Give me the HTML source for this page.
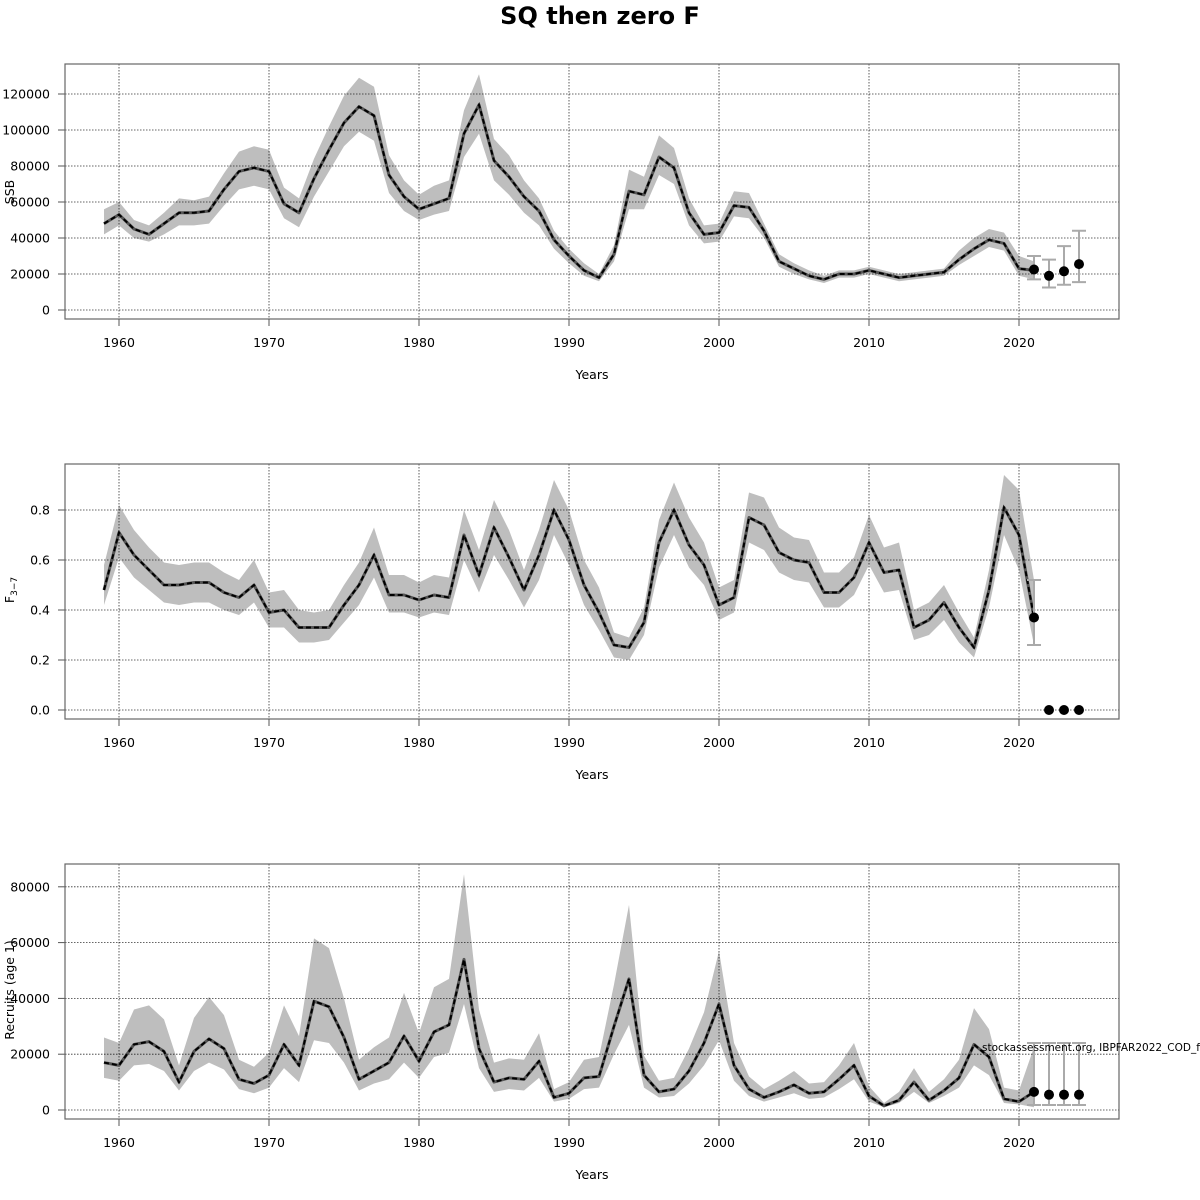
<!DOCTYPE html>
<html><head><meta charset="utf-8"><style>
html,body{margin:0;padding:0;background:#fff;width:1200px;height:1200px;overflow:hidden}
svg{display:block;font-family:"DejaVu Sans","Liberation Sans",sans-serif}
</style></head><body>
<svg id="chart" width="1200" height="1200" viewBox="0 0 1200 1200">
<text x="600" y="24" text-anchor="middle" font-size="24" font-weight="bold">SQ then zero F</text>
</svg>
<script>
const years = [];
for (let y = 1959; y <= 2021; y++) years.push(y);
const xTicks = [1960, 1970, 1980, 1990, 2000, 2010, 2020];

const ssbMid = [48,53,45,42,48,54,54,55,67,77,79,77,59,54,73,89,104,113,108,75,63,56,59,62,98,114,83,74,63,55,39,30,22,18,31,66,64,85,79,54,42,43,58,57,44,27,23,19,17,20,20,22,20,18,19,20,21,28,34,39,37,23,22];
const ssbHi = [56,60,50,47,54,62,61,63,76,88,91,89,68,62,84,102,119,129,124,86,72,64,69,72,111,131,95,86,72,62,44,34,26,20,36,78,74,97,90,62,47,48,66,65,48,31,26,22,19,22,22,24,22,20,21,22,23,33,40,45,43,30,27];
const ssbLo = [42,47,40,38,42,47,47,48,58,67,69,67,51,46,63,77,91,99,94,65,55,50,53,55,85,98,72,64,54,47,34,26,19,16,27,56,56,75,70,47,37,38,52,51,40,24,20,17,15,18,18,20,18,16,17,18,19,25,30,35,33,19,17];
const ssbFcYears = [2021,2022,2023,2024];
const ssbFc = [22.5,19,21.5,25.5];
const ssbFcLo = [17,12.5,14,15.5];
const ssbFcHi = [30,28,35.5,44];
const ssbTicks = [0,20000,40000,60000,80000,100000,120000];

const fMid = [0.48,0.71,0.62,0.56,0.50,0.50,0.51,0.51,0.47,0.45,0.50,0.39,0.40,0.33,0.33,0.33,0.42,0.50,0.62,0.46,0.46,0.44,0.46,0.45,0.70,0.54,0.73,0.61,0.48,0.62,0.80,0.68,0.50,0.39,0.26,0.25,0.35,0.67,0.80,0.66,0.58,0.42,0.45,0.77,0.74,0.63,0.60,0.59,0.47,0.47,0.53,0.67,0.55,0.56,0.33,0.36,0.43,0.33,0.25,0.48,0.81,0.70,0.37];
const fHi = [0.58,0.82,0.72,0.65,0.59,0.58,0.59,0.59,0.55,0.52,0.60,0.47,0.48,0.40,0.39,0.40,0.50,0.59,0.73,0.54,0.54,0.51,0.54,0.53,0.80,0.64,0.84,0.72,0.56,0.72,0.92,0.80,0.60,0.49,0.31,0.29,0.41,0.76,0.91,0.77,0.67,0.49,0.52,0.87,0.85,0.73,0.69,0.68,0.55,0.55,0.61,0.78,0.65,0.67,0.40,0.43,0.50,0.39,0.29,0.56,0.94,0.88,0.52];
const fLo = [0.42,0.61,0.53,0.48,0.43,0.42,0.43,0.43,0.40,0.38,0.43,0.33,0.33,0.27,0.27,0.28,0.35,0.42,0.53,0.39,0.39,0.37,0.39,0.38,0.60,0.47,0.62,0.52,0.41,0.52,0.70,0.58,0.42,0.32,0.21,0.20,0.30,0.57,0.70,0.57,0.50,0.36,0.39,0.67,0.64,0.55,0.52,0.51,0.41,0.41,0.46,0.58,0.47,0.48,0.28,0.30,0.36,0.27,0.21,0.41,0.70,0.56,0.26];
const fFcYears = [2021,2022,2023,2024];
const fFc = [0.37,0,0,0];
const fFcLo = [0.26,0,0,0];
const fFcHi = [0.52,0,0,0];
const fTicks = [0,0.2,0.4,0.6,0.8];

const recMid = [17,16,23.5,24.5,21,10,21,25.5,22,11,9.5,12.5,23.5,16,39,37,26,11,14,17,26.5,17.5,28,30.5,54,22,10,11.5,11,17.5,4.5,6,11.5,12,30,47,12.5,6.5,7.5,14,24,38,16,7.5,4.5,6.5,9,6,6.5,11,16,5,1.5,3.5,10,3.5,7,11.5,23.5,19,4,3,6.5];
const recHi = [26,24,36,37.5,32.5,16,33,40.5,34,18,15.5,20.5,37.5,26.5,61.5,58,40,18,22.5,26,42,27.5,44,47,84.5,36,17,18.5,18,27.5,7.5,10,18,19,45,73.5,19.5,10.5,11.5,22,35,57,24,12,7.5,10.5,14,9.5,10,16,24,8.5,2.5,6.5,15,6.5,11,18,36.5,29,8,7,22.5];
const recLo = [11.5,10.5,16,16.5,14,7,14,17,14.5,7.5,6,8,15,10,25,24,17,7,9.5,11,17,11.5,19,20.5,38,15,6.5,7.5,7,11.5,3,4,7.5,8,20,30.5,8,4.5,5,9.5,16,25,10.5,5,3,4.5,6,4,4.5,7.5,11,3,1,2.5,6.5,2.5,5,8,16,12.5,2.5,2,1];
const recFcYears = [2021,2022,2023,2024];
const recFc = [6.5,5.5,5.5,5.5];
const recFcLo = [1.8,1.8,1.8,1.8];
const recFcHi = [24,24,24,24];
const recTicks = [0,20000,40000,60000,80000];

const NS = "http://www.w3.org/2000/svg";
const svg = document.getElementById('chart');
function el(tag, attrs, parent) {
  const e = document.createElementNS(NS, tag);
  for (const k in attrs) e.setAttribute(k, attrs[k]);
  (parent || svg).appendChild(e);
  return e;
}
const xScale = yr => 119 + (yr - 1960) * 15;

function panel(p) {
  const g = el('g', {});
  
  
  const yScale = v => p.y0 - (v * p.mult - p.vmin) * p.pxPer;
  // band
  let pts = [];
  years.forEach((yr, i) => pts.push(xScale(yr) + ',' + yScale(p.hi[i])));
  for (let i = years.length - 1; i >= 0; i--) pts.push(xScale(years[i]) + ',' + yScale(p.lo[i]));
  const band = el('polygon', {points: pts.join(' '), fill: '#bebebe', stroke: 'none'}, g);
  
  
  // grid
  xTicks.forEach(t => {
    const l = el('line', {x1: xScale(t), x2: xScale(t), y1: p.top, y2: p.bot, stroke: '#000', 'stroke-width': 0.8, 'stroke-dasharray': '1.5,1.5', opacity: 0.8}, g);
    
    
  });
  p.ticks.forEach(t => {
    const yy = yScale(t / p.tickDiv);
    const l = el('line', {x1: 65, x2: 1119, y1: yy, y2: yy, stroke: '#000', 'stroke-width': 0.8, 'stroke-dasharray': '1.5,1.5', opacity: 0.8}, g);
    
    
    const tk = el('line', {x1: 58, x2: 65, y1: yy, y2: yy, stroke: '#555', 'stroke-width': 1}, g);
    
    
    const tx = el('text', {x: 50, y: yy + 4.5, 'text-anchor': 'end', 'font-size': 12.5}, g);
    tx.textContent = p.tickFmt(t);
    
    
  });
  // line
  const d = years.map((yr, i) => (i ? 'L' : 'M') + xScale(yr) + ',' + yScale(p.mid[i])).join(' ');
  const l1 = el('path', {d: d, fill: 'none', stroke: '#555', 'stroke-width': 3, 'stroke-linejoin': 'round'}, g);
  
  
  const l2 = el('path', {d: d, fill: 'none', stroke: '#000', 'stroke-width': 2, 'stroke-dasharray': '5,3'}, g);
  
  
  // forecast
  p.fcY.forEach((yr, i) => {
    const x = xScale(yr), a = yScale(p.fcLo[i]), b = yScale(p.fcHi[i]);
    if (Math.abs(a - b) > 0.5) {
      const eb = el('path', {d: `M${x},${a} L${x},${b} M${x - 7},${a} L${x + 7},${a} M${x - 7},${b} L${x + 7},${b}`, stroke: '#aaa', 'stroke-width': 2, fill: 'none'}, g);
      
      
    }
    const c = el('circle', {cx: x, cy: yScale(p.fc[i]), r: 5, fill: '#000'}, g);
    
    
  });
  // box
  const bx = el('rect', {x: 65, y: p.top, width: 1054, height: p.bot - p.top, fill: 'none', stroke: '#666', 'stroke-width': 1.2}, g);
  
  
  xTicks.forEach(t => {
    const tk = el('line', {x1: xScale(t), x2: xScale(t), y1: p.bot, y2: p.bot + 7, stroke: '#555'}, g);
    
    
    const tx = el('text', {x: xScale(t), y: p.bot + 28, 'text-anchor': 'middle', 'font-size': 12.5}, g);
    tx.textContent = t;
    
    
  });
  const xt = el('text', {x: 592, y: p.bot + 60, 'text-anchor': 'middle', 'font-size': 12.5}, g);
  xt.textContent = 'Years';
  
  
  const yt = el('text', {x: 0, y: 0, 'text-anchor': 'middle', 'font-size': 12.5, transform: `translate(14,${p.ylabY}) rotate(-90)`}, g);
  yt.innerHTML = p.ylab;
  
  
}

panel({name: 'ssb', top: 64, bot: 319, y0: 310, vmin: 0, pxPer: 1.8, mult: 1, mid: ssbMid, hi: ssbHi, lo: ssbLo,
  fcY: ssbFcYears, fc: ssbFc, fcLo: ssbFcLo, fcHi: ssbFcHi, ticks: ssbTicks, tickDiv: 1000, tickFmt: t => String(t), ylab: 'SSB', ylabY: 192});
panel({name: 'fishing-mortality', top: 464, bot: 719, y0: 710, vmin: 0, pxPer: 250, mult: 1, mid: fMid, hi: fHi, lo: fLo,
  fcY: fFcYears, fc: fFc, fcLo: fFcLo, fcHi: fFcHi, ticks: fTicks, tickDiv: 1, tickFmt: t => t.toFixed(1), ylab: 'F<tspan font-size="9" dy="3">3\u22127</tspan>', ylabY: 590});
panel({name: 'recruits', top: 864, bot: 1119, y0: 1110, vmin: 0, pxPer: 2.79, mult: 1, mid: recMid, hi: recHi, lo: recLo,
  fcY: recFcYears, fc: recFc, fcLo: recFcLo, fcHi: recFcHi, ticks: recTicks, tickDiv: 1000, tickFmt: t => String(t), ylab: 'Recruits (age 1)', ylabY: 990});

const note = el('text', {x: 982, y: 1051, 'font-size': 10.5, fill: '#000'});
note.textContent = 'stockassessment.org, IBPFAR2022_COD_final';


</script>
</body></html>
